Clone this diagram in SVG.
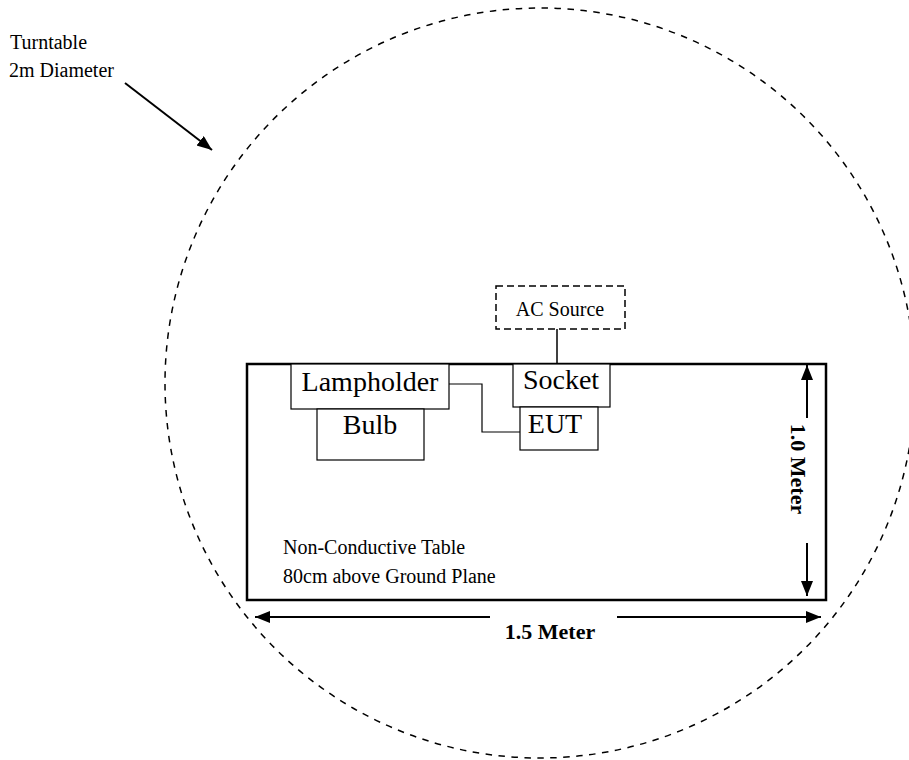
<svg xmlns="http://www.w3.org/2000/svg" width="909" height="760" viewBox="0 0 909 760">
<style>
text{font-family:"Liberation Serif","Times New Roman",serif;fill:#000}
.lbl{font-size:28px;text-anchor:middle}
.sm{font-size:20px}
.dim{font-size:22px;font-weight:bold;text-anchor:middle}
.box{fill:#fff;stroke:#000;stroke-width:1.2}
.wire{fill:none;stroke:#000;stroke-width:1.2}
.arr{fill:none;stroke:#000;stroke-width:2;marker-end:url(#ah)}
</style>
<defs>
<marker id="ah" markerUnits="userSpaceOnUse" markerWidth="16" markerHeight="13" refX="15" refY="6" orient="auto">
<path d="M0,0 L15,6 L0,12 z" fill="#000"/>
</marker>
</defs>
<rect width="909" height="760" fill="#fff"/>
<g id="turntable">
<circle cx="540" cy="383" r="375" fill="none" stroke="#000" stroke-width="1.5" stroke-dasharray="6.5 6.5"/>
<text class="sm" x="10" y="49">Turntable</text>
<text class="sm" x="9" y="77">2m Diameter</text>
</g>
<g id="table">
<rect x="247" y="364" width="579" height="236" fill="none" stroke="#000" stroke-width="2.5"/>
<text class="sm" x="283" y="554">Non-Conductive Table</text>
<text class="sm" x="283" y="583">80cm above Ground Plane</text>
</g>
<g id="connectors">
<line class="arr" x1="125" y1="83" x2="212" y2="150"/>
<line x1="557" y1="329" x2="557" y2="364" stroke="#000" stroke-width="1.5"/>
<polyline class="wire" points="449,384 482,384 482,432 520,432"/>
<line class="arr" x1="490" y1="617" x2="255" y2="617"/>
<line class="arr" x1="617" y1="617" x2="821" y2="617"/>
<line class="arr" x1="807" y1="418" x2="807" y2="365"/>
<line class="arr" x1="807" y1="543" x2="807" y2="596"/>
</g>
<g id="ac-source">
<rect x="496" y="286" width="129" height="43" fill="#fff" stroke="#000" stroke-width="1.5" stroke-dasharray="7 4"/>
<text x="560" y="316" font-size="20" text-anchor="middle">AC Source</text>
</g>
<g id="lampholder">
<rect class="box" x="291" y="364" width="158" height="45"/>
<text class="lbl" x="370" y="391">Lampholder</text>
</g>
<g id="bulb">
<rect class="box" x="317" y="409" width="107" height="51"/>
<text class="lbl" x="370" y="434">Bulb</text>
</g>
<g id="socket">
<rect class="box" x="513" y="364" width="97" height="43"/>
<text class="lbl" x="561" y="389">Socket</text>
</g>
<g id="eut">
<rect class="box" x="520" y="407" width="78" height="43"/>
<text class="lbl" x="555" y="433">EUT</text>
</g>
<g id="dimensions">
<text class="dim" x="550" y="639">1.5 Meter</text>
<text class="dim" transform="translate(791,469) rotate(90)">1.0 Meter</text>
</g>
</svg>
